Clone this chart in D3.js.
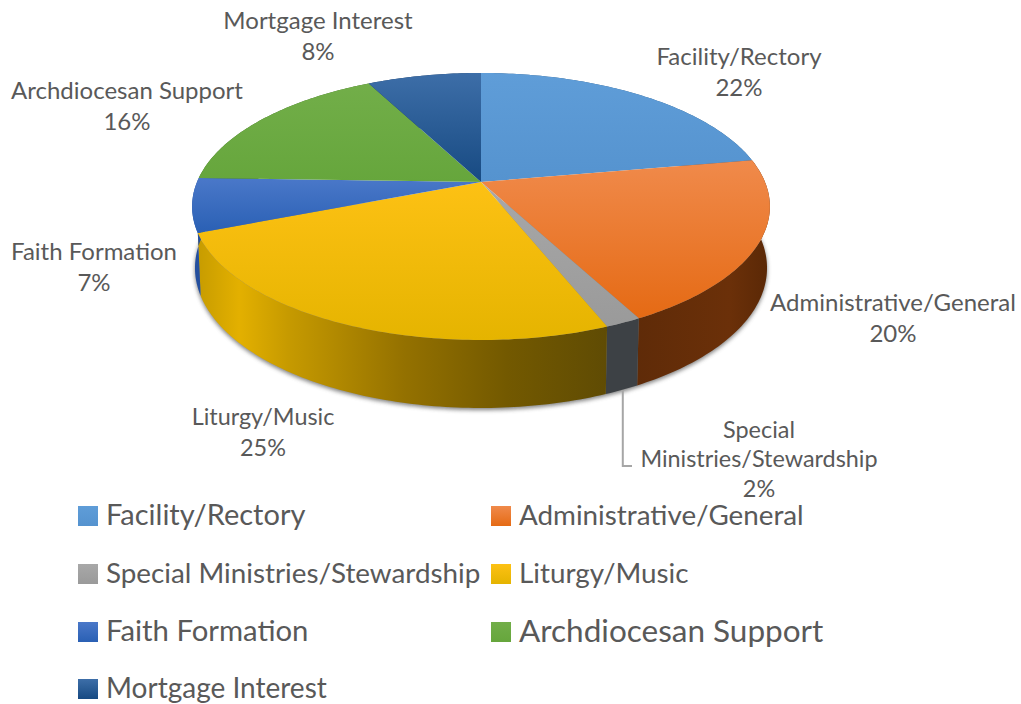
<!DOCTYPE html>
<html><head><meta charset="utf-8">
<script src="https://cdn.jsdelivr.net/npm/d3@7/dist/d3.min.js"></script>
<style>html,body{margin:0;padding:0;background:#fff}svg{display:block}text{font-family:Lato,"Open Sans",sans-serif;fill:#595959}</style>
</head><body><svg id="c" width="1021" height="704"></svg>
<script>
const categories=["Facility/Rectory","Administrative/General","Special Ministries/Stewardship","Liturgy/Music","Faith Formation","Archdiocesan Support","Mortgage Interest"];
const values=[22,20,2,25,7,16,8];
const shares=[22.2,20.1,1.7,25,6.5,16.9,7.6];
const topLight=["#5f9dd8","#f08a4b","#a8a8a8","#fdc114","#4a78c9","#72ae49","#3d6ea8"];
const topDark=["#5593cf","#e56a14","#9a9a9a","#e5b400","#2a60b4","#66a63c","#174a82"];
const sideColor=["#2f5d88","#6a2f08","#3d4145","#b08a00","#244f9e","#3f6b28","#16365c"];

const svg=d3.select("#c"),defs=svg.append("defs");
const cx=481,cy=182,A=284,B=95.6,k=-0.1835;
function topPt(t){const x=Math.sin(t),y=-Math.cos(t),d=1+k*y;return [cx+A*x/d,(B*y+cy)/d];}
function basePt(t){const y=-Math.cos(t),p=topPt(t);return [cx+(p[0]-cx)*0.99,p[1]+60+8*y];}
function arcPts(f,a,b){const n=Math.max(2,Math.ceil((b-a)*60));return d3.range(n+1).map(i=>f(a+(b-a)*i/n));}
const line=d3.line();
const arcs=d3.pie().sort(null).value(d=>d)(shares);

const blur=defs.append("filter").attr("id","soft").attr("x","-10%").attr("y","-10%").attr("width","120%").attr("height","130%");
blur.append("feGaussianBlur").attr("stdDeviation",2);

const yg=defs.append("linearGradient").attr("id","sideY").attr("gradientUnits","userSpaceOnUse")
  .attr("x1",198).attr("x2",610).attr("y1",0).attr("y2",0);
[[0,"#c79c00"],[0.1,"#e3b000"],[0.22,"#c69a00"],[0.5,"#947100"],[0.75,"#735900"],[1,"#5f4b04"]].forEach(s=>yg.append("stop").attr("offset",s[0]).attr("stop-color",s[1]));
const og=defs.append("linearGradient").attr("id","sideO").attr("gradientUnits","userSpaceOnUse")
  .attr("x1",636).attr("x2",770).attr("y1",0).attr("y2",0);
[[0,"#5f2b08"],[0.7,"#6b3009"],[1,"#5a2806"]].forEach(s=>og.append("stop").attr("offset",s[0]).attr("stop-color",s[1]));

const full=arcPts(basePt,Math.PI*0.4,Math.PI*1.6);
svg.append("path").attr("d",line(full.map(p=>[p[0],p[1]+2]))+"Z").attr("fill","#555").attr("opacity",.75).attr("filter","url(#soft)");

const leader=arcs[2];
const lp=basePt((leader.startAngle+leader.endAngle)/2);
svg.append("path").attr("d",line([[lp[0]+1,lp[1]],[lp[0]+1,466],[632,466]])).attr("fill","none").attr("stroke","#a6a6a6").attr("stroke-width",2);

arcs.forEach((d,i)=>{
  const pts=arcPts(topPt,d.startAngle,d.endAngle).concat(arcPts(basePt,d.startAngle,d.endAngle).reverse());
  svg.append("path").attr("d",line(pts)+"Z")
    .attr("fill",i===3?"url(#sideY)":i===1?"url(#sideO)":sideColor[i]);
});

arcs.forEach((d,i)=>{
  const pts=[[cx,cy]].concat(arcPts(topPt,d.startAngle,d.endAngle));
  const g=defs.append("linearGradient").attr("id","top"+i).attr("gradientUnits","userSpaceOnUse")
    .attr("x1",0).attr("x2",0).attr("y1",d3.min(pts,p=>p[1])).attr("y2",d3.max(pts,p=>p[1]));
  g.append("stop").attr("offset",0).attr("stop-color",topLight[i]);
  g.append("stop").attr("offset",1).attr("stop-color",topDark[i]);
  svg.append("path").attr("d",line(pts)+"Z").attr("fill","url(#top"+i+")");
});

const labelLines=[["Facility/Rectory"],["Administrative/General"],["Special","Ministries/Stewardship"],["Liturgy/Music"],["Faith Formation"],["Archdiocesan Support"],["Mortgage Interest"]];
const labelAt=[[739,59],[893,305],[759,432],[263,419],[94,254],[127,93],[318,23]];
const labelSize=[24,24,23.4,23.4,24,24,24];
labelLines.forEach((ls,i)=>{
  const all=ls.concat([values[i]+"%"]);
  all.forEach((s,j)=>svg.append("text").attr("x",labelAt[i][0]).attr("y",labelAt[i][1]+j*(i===2?29.5:31))
    .attr("text-anchor","middle").attr("dominant-baseline","middle").attr("font-size",labelSize[i]).text(s));
});

const legendX=[78,491],legendY=[518,576,634,691];
const legendSize=[29,27.8,27.8,27.8,29.3,31.5,28];
categories.forEach((c,i)=>{
  const col=i===6?0:i%2,row=Math.floor(i/2);
  const x=legendX[col],y=legendY[row];
  const g=defs.append("linearGradient").attr("id","lg"+i).attr("x1",0).attr("x2",0).attr("y1",0).attr("y2",1);
  g.append("stop").attr("offset",0).attr("stop-color",topLight[i]);
  g.append("stop").attr("offset",1).attr("stop-color",topDark[i]);
  svg.append("rect").attr("x",x).attr("y",y-12).attr("width",20).attr("height",20).attr("fill","url(#lg"+i+")");
  svg.append("text").attr("x",x+28).attr("y",y).attr("dominant-baseline","middle").attr("font-size",legendSize[i]).text(c);
});
</script></body></html>
